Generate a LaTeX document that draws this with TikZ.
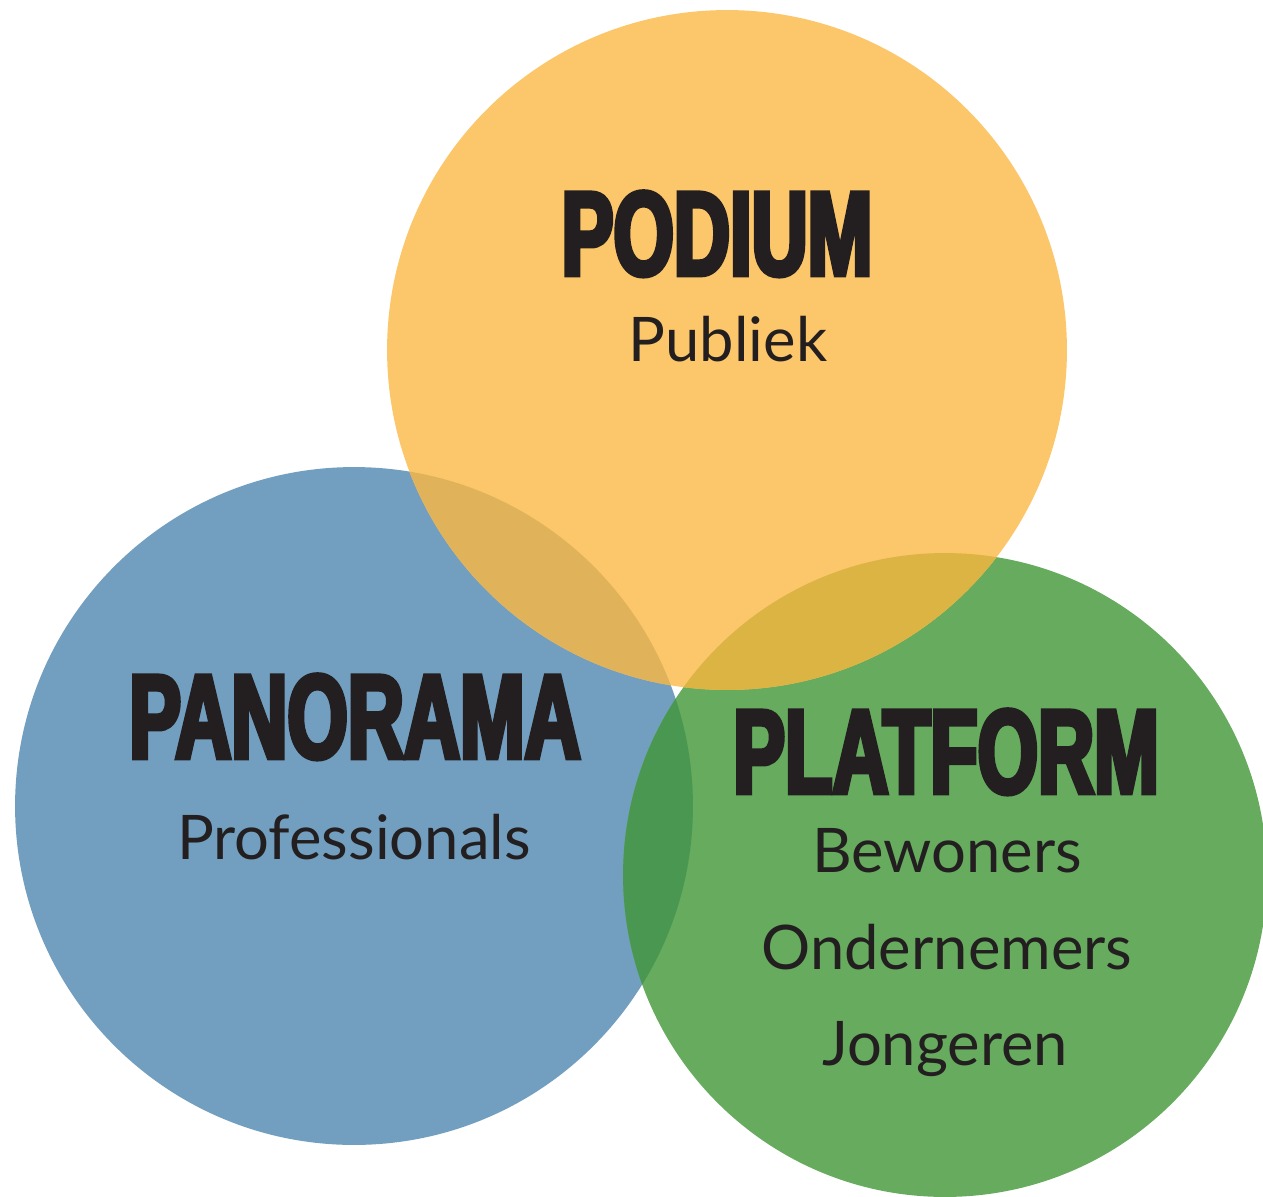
\documentclass[tikz,border=0pt]{standalone}
\usepackage{fontspec}
\setmainfont{Lato}
\newfontfamily\headfont[FakeStretch=0.65,BoldFeatures={FakeBold=4}]{Liberation Sans}
\definecolor{ink}{HTML}{231F20}
\definecolor{podiumfill}{HTML}{FCC66A}
\definecolor{panoramafill}{HTML}{729FC0}
\definecolor{platformfill}{HTML}{66AB5E}
\definecolor{podpanfill}{HTML}{E0B35B}
\definecolor{podplatfill}{HTML}{DCB444}
\definecolor{panplatfill}{HTML}{4A9752}
\begin{document}
\begin{tikzpicture}[x=0.02cm,y=-0.02cm]
	\tikzstyle{title} = [inner sep=0, anchor=base, text=ink, font=\headfont\bfseries\fontsize{68}{68}\selectfont]
	\tikzstyle{group} = [inner sep=0, anchor=base, text=ink, font=\fontsize{35}{35}\selectfont]
\useasboundingbox (0,0) rectangle (1263,1196);
\coordinate (panorama) at (354,806);
\coordinate (podium) at (727,350);
\coordinate (platform) at (945,875);
% circles
\fill [panoramafill] (panorama) circle (6.78cm);
\fill [platformfill] (platform) circle (6.44cm);
\fill [podiumfill] (podium) circle (6.8cm);
% overlaps
\begin{scope}
\clip (panorama) circle (6.78cm);
\fill [podpanfill] (podium) circle (6.8cm);
\end{scope}
\begin{scope}
\clip (panorama) circle (6.78cm);
\fill [panplatfill] (platform) circle (6.44cm);
\end{scope}
\begin{scope}
\clip (platform) circle (6.44cm);
\fill [podplatfill] (podium) circle (6.8cm);
\end{scope}

\node [title] (t1) at (717,275) {PODIUM};
\node [group] (g1) at (728,361) {Publiek};
\node [title] (t2) at (355,758) {PANORAMA};
\node [group] (g2) at (354,859) {Professionals};
\node [title] (t3) at (946,793) {PLATFORM};
\node [group] (g3) at (947,872) {Bewoners};
\node [group] (g4) at (947,969) {Ondernemers};
\node [group] (g5) at (945,1065) {Jongeren};
\end{tikzpicture}
\end{document}
